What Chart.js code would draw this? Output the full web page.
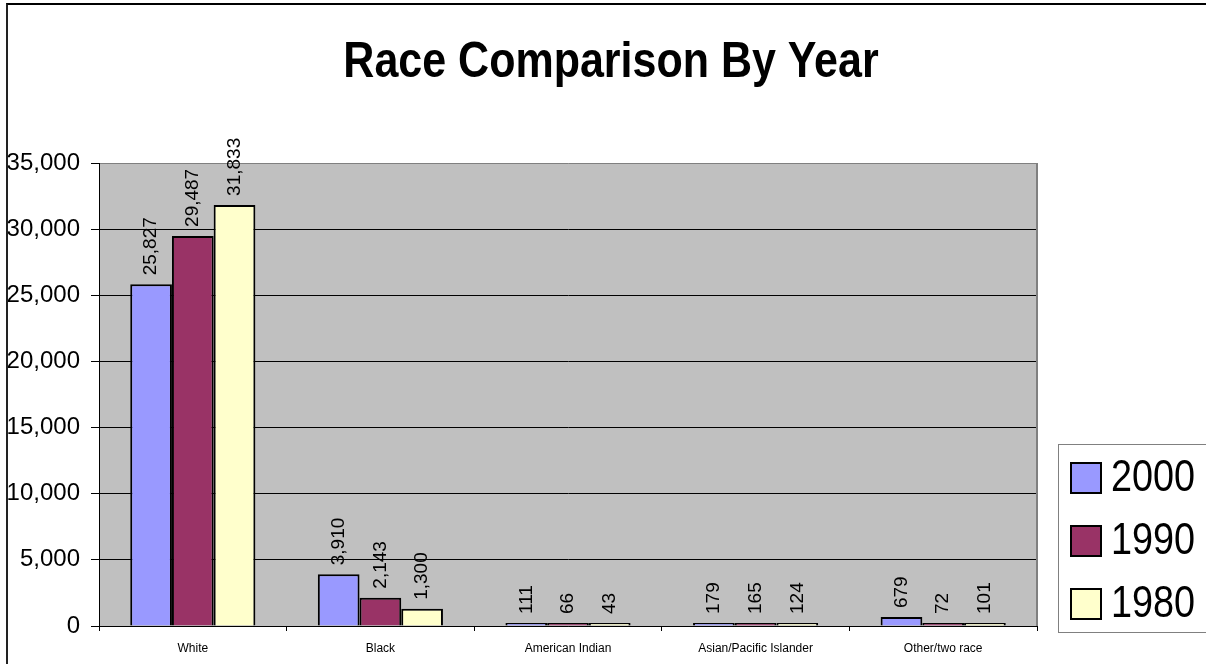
<!DOCTYPE html>
<html>
<head>
    <meta charset="UTF-8">
    <title>Race Comparison By Year</title>
    <script src="https://cdn.jsdelivr.net/npm/chart.js"></script>
    <style>
        body {
            margin: 0;
            background-color: #fff;
            overflow: hidden;
        }

        .wrap {
            position: relative;
            width: 1206px;
            height: 664px;
        }

        .frame {
            position: absolute;
            left: 6px;
            top: 3px;
            width: 1210px;
            height: 659px;
            border-top: 2px solid #000;
            border-left: 2px solid #222;
            border-bottom: 1px solid #a0a0a0;
            pointer-events: none;
        }
    </style>
</head>
<body>
    <div class="wrap">
        <canvas id="raceChart" width="1206" height="664"></canvas>
        <div class="frame"></div>
    </div>

    <script>
        // dados do grafico
        var categorias = ['White', 'Black', 'American Indian', 'Asian/Pacific Islander', 'Other/two race'];
        var anos = ['2000', '1990', '1980'];
        var valores2000 = [25827, 3910, 111, 179, 679];
        var valores1990 = [29487, 2143, 66, 165, 72];
        var valores1980 = [31833, 1300, 43, 124, 101];
        var cores = ['#9999FF', '#993366', '#FFFFCC'];
        var tituloTexto = 'Race Comparison By Year';

        var sans = '"Liberation Sans", Arial, sans-serif';

        // fundo cinza da area do grafico
        var fundoPlugin = {
            id: 'fundo',
            beforeDraw: function(chart) {
                var a = chart.chartArea;
                var ctx = chart.ctx;
                ctx.save();
                ctx.fillStyle = '#C0C0C0';
                ctx.fillRect(a.left, a.top, a.right - a.left, a.bottom - a.top);
                ctx.restore();
            },
            afterDatasetsDraw: function(chart) {
                var a = chart.chartArea;
                var ctx = chart.ctx;
                ctx.save();
                ctx.strokeStyle = '#808080';
                ctx.lineWidth = 2;
                ctx.beginPath();
                ctx.moveTo(a.right, a.top);
                ctx.lineTo(a.right, a.bottom);
                ctx.stroke();
                ctx.restore();
            }
        };

        // rotulos verticais acima das barras
        var rotulosPlugin = {
            id: 'rotulos',
            afterDatasetsDraw: function(chart) {
                var ctx = chart.ctx;
                ctx.save();
                ctx.fillStyle = '#000';
                ctx.font = '19px ' + sans;
                ctx.textAlign = 'left';
                ctx.textBaseline = 'middle';
                chart.data.datasets.forEach(function(ds, i) {
                    var meta = chart.getDatasetMeta(i);
                    meta.data.forEach(function(bar, j) {
                        ctx.save();
                        ctx.translate(bar.x, bar.y - 9);
                        ctx.rotate(-Math.PI / 2);
                        ctx.fillText(ds.data[j].toLocaleString('en-US'), 0, 0);
                        ctx.restore();
                    });
                });
                ctx.restore();
            }
        };

        // titulo e legenda desenhados no canvas (fonte um pouco estreitada)
        var extrasPlugin = {
            id: 'extras',
            afterDraw: function(chart) {
                var ctx = chart.ctx;
                ctx.save();
                ctx.fillStyle = '#000';
                ctx.font = 'bold 50px ' + sans;
                ctx.textAlign = 'center';
                ctx.textBaseline = 'alphabetic';
                ctx.save();
                ctx.translate(611, 77);
                ctx.scale(0.86, 1);
                ctx.fillText(tituloTexto, 0, 0);
                ctx.restore();

                // legenda
                ctx.fillStyle = '#fff';
                ctx.fillRect(1058, 444, 160, 188);
                ctx.strokeStyle = '#808080';
                ctx.lineWidth = 1;
                ctx.strokeRect(1058.5, 444.5, 160, 188);
                ctx.font = '45px ' + sans;
                ctx.textAlign = 'left';
                ctx.textBaseline = 'middle';
                chart.data.datasets.forEach(function(ds, i) {
                    var cy = 478 + i * 63;
                    ctx.fillStyle = ds.backgroundColor;
                    ctx.fillRect(1071, cy - 15, 30, 30);
                    ctx.strokeStyle = '#000';
                    ctx.lineWidth = 2;
                    ctx.strokeRect(1071, cy - 15, 30, 30);
                    ctx.fillStyle = '#000';
                    ctx.save();
                    ctx.translate(1111, cy + 1);
                    ctx.scale(0.84, 1);
                    ctx.fillText(ds.label, 0, 0);
                    ctx.restore();
                });
                ctx.restore();
            }
        };

        var ctx = document.getElementById('raceChart').getContext('2d');
        var chart = new Chart(ctx, {
            type: 'bar',
            data: {
                labels: categorias,
                datasets: [
                    { label: anos[0], data: valores2000, backgroundColor: cores[0] },
                    { label: anos[1], data: valores1990, backgroundColor: cores[1] },
                    { label: anos[2], data: valores1980, backgroundColor: cores[2] }
                ].map(function(d) {
                    d.borderColor = '#000';
                    d.borderWidth = 2;
                    d.minBarLength = 3;
                    d.categoryPercentage = 0.667;
                    d.barPercentage = 1;
                    return d;
                })
            },
            options: {
                responsive: false,
                animation: false,
                events: [],
                layout: {
                    padding: { left: 0, top: 163, right: 169, bottom: 8 }
                },
                plugins: {
                    legend: { display: false },
                    title: { display: false },
                    tooltip: { enabled: false }
                },
                scales: {
                    x: {
                        grid: {
                            offset: true,
                            drawOnChartArea: false,
                            drawTicks: true,
                            tickLength: 5,
                            tickColor: '#000',
                            color: '#000'
                        },
                        border: { color: '#000', width: 1 },
                        ticks: {
                            color: '#000',
                            padding: 10,
                            maxRotation: 0,
                            autoSkip: false,
                            font: { family: sans, size: 12 }
                        },
                        afterFit: function(scale) { scale.height = 30; }
                    },
                    y: {
                        min: 0,
                        max: 35000,
                        grid: {
                            color: function(c) { return c.tick && c.tick.value === 35000 ? '#808080' : '#000'; },
                            lineWidth: 1,
                            drawTicks: true,
                            tickLength: 8,
                            tickColor: '#000'
                        },
                        border: { color: '#000', width: 1 },
                        ticks: {
                            stepSize: 5000,
                            color: '#000',
                            padding: 11,
                            font: { family: sans, size: 24 },
                            callback: function(v) { return v.toLocaleString('en-US'); }
                        },
                        afterFit: function(scale) { scale.width = 99; }
                    }
                }
            },
            plugins: [fundoPlugin, rotulosPlugin, extrasPlugin]
        });
    </script>
</body>
</html>
